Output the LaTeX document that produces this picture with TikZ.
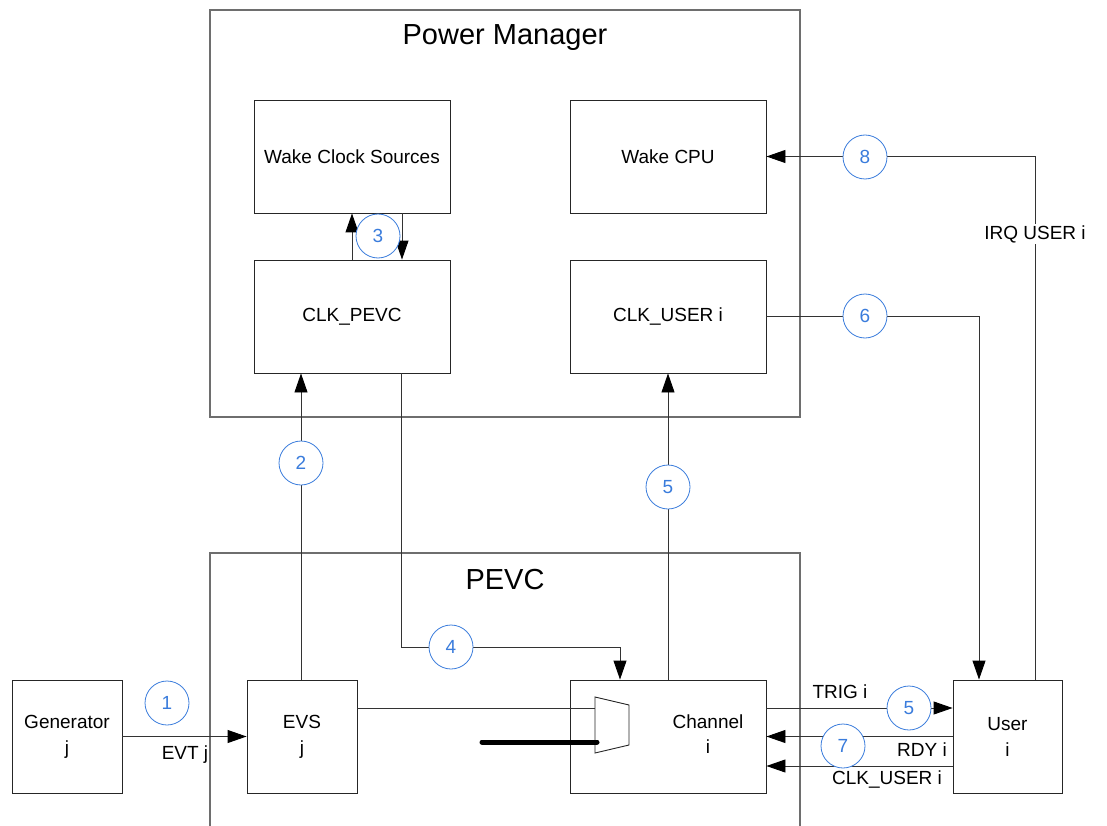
\documentclass[tikz,border=0pt]{standalone}
\usepackage{fontspec}
\setmainfont{Liberation Sans}
\usetikzlibrary{arrows.meta,calc}
\definecolor{numblue}{RGB}{58,124,220}
\definecolor{outergray}{RGB}{110,110,110}
\tikzset{
  blk/.style={draw=black!85, line width=0.9pt, minimum width=196pt, minimum height=113pt, inner sep=0pt, align=center, font=\fontsize{19}{26}\selectfont},
  sblk/.style={blk, minimum width=110pt},
  num/.style={circle, draw=numblue, line width=0.8pt, fill=white, minimum size=44pt, inner sep=0pt, text=numblue, font=\fontsize{19}{22}\selectfont},
  arr/.style={draw=black!80, line width=0.9pt, -{Triangle[length=19pt,width=13pt,color=black]}},
  ln/.style={draw=black!80, line width=0.9pt},
  lbl/.style={inner sep=1pt, font=\fontsize{19}{22}\selectfont},
  ttl/.style={font=\fontsize{29}{32}\selectfont},
  outer/.style={draw=outergray, line width=1.3pt}
}
\begin{document}
\begin{tikzpicture}[x=1pt,y=-1pt]
\useasboundingbox (0,0) rectangle (1107,826);
% outer containers
\draw[outer] (210,10) rectangle (800,417);
\node[ttl] (pmttl) at (505,38) {Power Manager};
\draw[outer] (210,826) -- (210,553) -- (800,553) -- (800,826);
\node[ttl] (pevcttl) at (505,580) {PEVC};
% blocks
\node[blk] (wcs) at (352,156.5) {Wake Clock Sources};
\node[blk] (wcpu) at (668,156.5) {Wake CPU};
\node[blk] (clkpevc) at (352,316.5) {CLK\_PEVC};
\node[blk] (clkuser) at (668,316.5) {CLK\_USER i};
\node[sblk] (gen) at (67,736.5) {Generator\\j};
\node[sblk] (evs) at (302,736.5) {EVS\\j};
\node[blk] (chan) at (668,736.5) {};
\node[lbl] (chanlbl) at (708,736.5) {\begin{tabular}{@{}c@{}}Channel\\[3pt]i\end{tabular}};
\node[sblk, minimum width=109pt] (user) at (1007.5,736.5) {User\\i};
% mux
\draw[line width=0.9pt, draw=black!85] (595,697) -- (629,705) -- (629,745) -- (595,753) -- cycle;
\coordinate (muxin) at (595,708);
\coordinate (busL) at (482,742);
\coordinate (busR) at (597,742);
\draw[line width=5pt, line cap=round] (busL) -- (busR);
% connectors
\draw[arr] (gen.east) -- (evs.west);
\draw[ln] ([yshift=28.5pt]evs.east) -- (muxin);
\draw[arr] (evs.north -| 301,0) -- (clkpevc.south -| 301,0);
\draw[arr] (clkpevc.north) -- (wcs.south);
\draw[arr] ([xshift=50pt]wcs.south) -- ([xshift=50pt]clkpevc.north);
\draw[arr] ([xshift=49pt]clkpevc.south) |- (620,647) -- ([xshift=-48pt]chan.north);
\draw[arr] (chan.north) -- (clkuser.south);
\draw[arr] (clkuser.east) -| ([xshift=-28.5pt]user.north);
\draw[arr] ([xshift=27.5pt]user.north) |- (wcpu.east);
\draw[arr] ([yshift=28.5pt]chan.east) -- ([yshift=28.5pt]user.west);
\draw[arr] (user.west) -- (chan.east);
\draw[arr] ([yshift=-29.5pt]user.west) -- ([yshift=-29.5pt]chan.east);
% labels
\node[lbl] (evtl) at (185,755) {EVT j};
\node[lbl] (trigl) at (840,692) {TRIG i};
\node[lbl] (rdyl) at (922,750) {RDY i};
\node[lbl] (clkul) at (887,779) {CLK\_USER i};
\node[lbl, fill=white] (irql) at (1035,234) {IRQ USER i};
% numbers
\node[num] (n1) at (167,703) {1};
\node[num] (n2) at (301,463) {2};
\node[num] (n3) at (378,236) {3};
\node[num] (n4) at (451,647) {4};
\node[num] (n5) at (668,487) {5};
\node[num] (n6) at (865,316) {6};
\node[num] (n8) at (865,157) {8};
\node[num] (n5b) at (909,708) {5};
\node[num] (n7) at (843,746) {7};
\end{tikzpicture}
\end{document}
